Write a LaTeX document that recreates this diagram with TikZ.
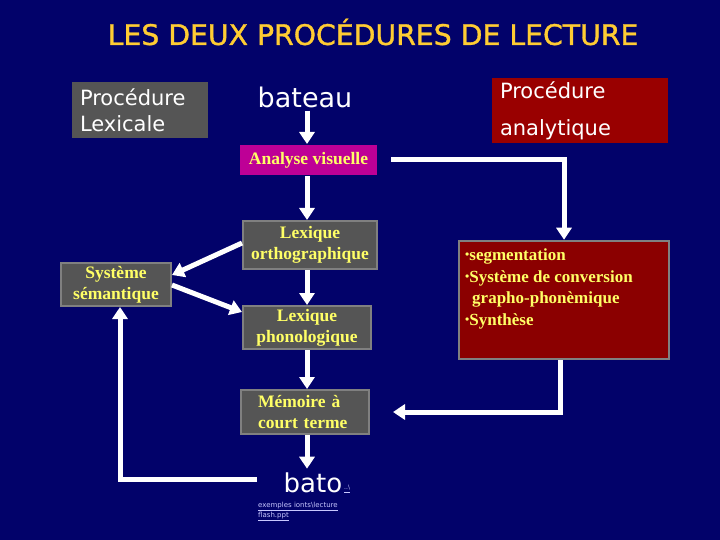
\documentclass[tikz,border=0pt]{standalone}
\usepackage{fontspec}
\setmainfont{Liberation Serif}
\newfontfamily\dejavu{DejaVu Sans}
\newfontfamily\dejavutitle[FakeBold=1.2]{DejaVu Sans}
\usetikzlibrary{arrows.meta}
\definecolor{bg}{HTML}{02026A}
\definecolor{boxgray}{HTML}{555555}
\definecolor{boxborder}{HTML}{808080}
\definecolor{txtyellow}{HTML}{FFFF66}
\definecolor{titlecol}{HTML}{FFCC33}
\definecolor{magbox}{HTML}{BE0096}
\definecolor{redlabel}{HTML}{990000}
\definecolor{redbox}{HTML}{8B0000}
\definecolor{linkcol}{HTML}{C8C8FF}
\begin{document}
\begin{tikzpicture}[x=1pt,y=-1pt,
  graybox/.style={draw=boxborder, line width=2pt, fill=boxgray, text=txtyellow,
    font=\bfseries\fontsize{17.5}{21}\selectfont, align=center, inner sep=0pt},
  sanslabel/.style={text=white, font=\dejavu\fontsize{21}{26}\selectfont, align=left, inner sep=0pt},
  arr/.style={draw=white, line width=5pt, -{Triangle[width=15pt,length=12pt]}}
]
\fill[bg] (0,0) rectangle (720,540);
\useasboundingbox (0,0) rectangle (720,540);

% title
\node[text=titlecol, font=\dejavutitle\fontsize{28.3}{30}\selectfont, inner sep=0pt] (title) at (373,32) {LES DEUX PROCÉDURES DE LECTURE};

% top labels
\node[fill=boxgray, sanslabel, minimum width=136pt, minimum height=56pt, text width=120pt, anchor=center] (lexlabel) at (140,110) {Procédure\\Lexicale};
\node[fill=redlabel, sanslabel, font=\dejavu\fontsize{21}{37}\selectfont, minimum width=176pt, minimum height=65pt, text width=160pt, anchor=center] (analabel) at (580,110.5) {Procédure\\analytique};

\node[text=white, font=\dejavu\fontsize{27}{30}\selectfont, inner sep=0pt] (bateau) at (305,97) {bateau};

% boxes
\node[graybox, fill=magbox, draw=none, minimum width=137pt, minimum height=30pt] (av) at (308.5,160) {Analyse visuelle};
\node[graybox, minimum width=134pt, minimum height=48pt] (lexortho) at (310,245) {Lexique\\orthographique};
\node[graybox, minimum width=110pt, minimum height=43pt] (sem) at (116,284.5) {Système\\sémantique};
\node[graybox, minimum width=128pt, minimum height=43pt] (lexphono) at (307,327.5) {Lexique\\phonologique};
\node[graybox, minimum width=128pt, minimum height=44pt, align=left, text width=94pt] (mem) at (305,412) {Mémoire à\\court terme};

% analytic process box
\node[draw=boxborder, line width=2.5pt, fill=redbox, minimum width=210pt, minimum height=118pt, inner sep=0pt] (proc) at (564,300) {};
\node[anchor=north west, text=txtyellow, font=\bfseries\fontsize{17}{21.5}\selectfont, align=left, inner sep=0pt] (proctext) at (465,249)
  {{\fontsize{12}{12}\selectfont\raisebox{2pt}{\textbullet}}segmentation\\
   {\fontsize{12}{12}\selectfont\raisebox{2pt}{\textbullet}}Système de conversion\\
   \hspace{7pt}grapho-phonèmique\\
   {\fontsize{12}{12}\selectfont\raisebox{2pt}{\textbullet}}Synthèse};

% bato and link
\node[text=white, font=\dejavu\fontsize{26}{30}\selectfont, inner sep=0pt] (bato) at (313,483) {bato};
\node[anchor=west, text=linkcol, font=\dejavu\fontsize{6}{7}\selectfont, inner sep=0pt] (batolink) at (344,489) {\underline{..\textbackslash}};
\node[anchor=north west, text=linkcol, font=\dejavu\fontsize{7}{8.5}\selectfont, align=left, inner sep=0pt] (link) at (258,502)
  {\underline{exemples ionts\textbackslash lecture}\\\underline{flash.ppt}};

% connectors
\coordinate (b1) at ([yshift=-3pt]bateau.south -| 307,0);
\draw[arr] (b1) -- (av.north -| 307,0);
\draw[arr] (av.south -| 307,0) -- (lexortho.north -| 307,0);
\draw[arr] (lexortho.south -| 307,0) -- (lexphono.north -| 307,0);
\draw[arr] (lexphono.south -| 307,0) -- (mem.north -| 307,0);
\draw[arr] (mem.south -| 307,0) -- ([yshift=4pt]bato.north -| 307,0);
\draw[arr] ([yshift=2pt]lexortho.west) -- ([yshift=9.5pt]sem.east);
\draw[arr] ([yshift=-0.5pt]sem.east) -- ([yshift=15.5pt]lexphono.west);

\coordinate (avout) at ([xshift=13pt]av.east);
\draw[arr] (avout) -| (proc.north);

\coordinate (batoleft) at (257,479);
\draw[arr] (batoleft) -| ([xshift=4pt]sem.south);

\coordinate (memin) at ([xshift=23pt]mem.east);
\draw[arr] ([xshift=-4pt]proc.south) |- (memin);
\end{tikzpicture}
\end{document}
